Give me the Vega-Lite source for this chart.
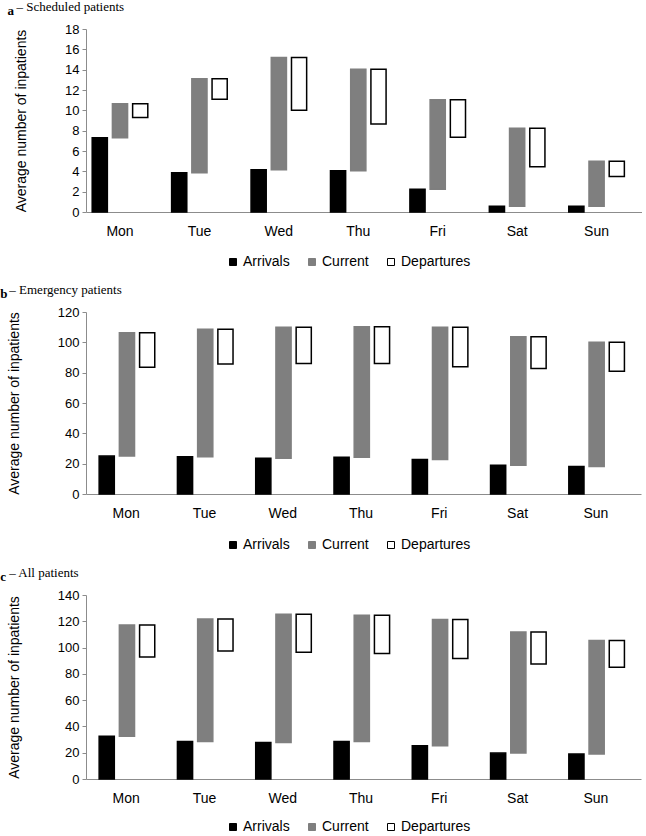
{
  "$schema": "https://vega.github.io/schema/vega-lite/v6.json",
  "padding": {"top": 1, "left": 0, "right": 0, "bottom": 0},
  "background": "white",
  "data": {"values": [
    {"p":"a","day":"Mon","s":"Arrivals","lo":0,"hi":7.3},{"p":"a","day":"Mon","s":"Current","lo":7.3,"hi":10.65},{"p":"a","day":"Mon","s":"Departures","lo":9.3,"hi":10.65},
    {"p":"a","day":"Tue","s":"Arrivals","lo":0,"hi":3.85},{"p":"a","day":"Tue","s":"Current","lo":3.85,"hi":13.1},{"p":"a","day":"Tue","s":"Departures","lo":11.1,"hi":13.1},
    {"p":"a","day":"Wed","s":"Arrivals","lo":0,"hi":4.15},{"p":"a","day":"Wed","s":"Current","lo":4.15,"hi":15.2},{"p":"a","day":"Wed","s":"Departures","lo":10.0,"hi":15.2},
    {"p":"a","day":"Thu","s":"Arrivals","lo":0,"hi":4.05},{"p":"a","day":"Thu","s":"Current","lo":4.05,"hi":14.05},{"p":"a","day":"Thu","s":"Departures","lo":8.65,"hi":14.05},
    {"p":"a","day":"Fri","s":"Arrivals","lo":0,"hi":2.25},{"p":"a","day":"Fri","s":"Current","lo":2.25,"hi":11.05},{"p":"a","day":"Fri","s":"Departures","lo":7.35,"hi":11.05},
    {"p":"a","day":"Sat","s":"Arrivals","lo":0,"hi":0.56},{"p":"a","day":"Sat","s":"Current","lo":0.56,"hi":8.25},{"p":"a","day":"Sat","s":"Departures","lo":4.45,"hi":8.25},
    {"p":"a","day":"Sun","s":"Arrivals","lo":0,"hi":0.56},{"p":"a","day":"Sun","s":"Current","lo":0.56,"hi":5.0},{"p":"a","day":"Sun","s":"Departures","lo":3.5,"hi":5.0},
    {"p":"b","day":"Mon","s":"Arrivals","lo":0,"hi":25},{"p":"b","day":"Mon","s":"Current","lo":25,"hi":106.3},{"p":"b","day":"Mon","s":"Departures","lo":83.5,"hi":106.3},
    {"p":"b","day":"Tue","s":"Arrivals","lo":0,"hi":24.5},{"p":"b","day":"Tue","s":"Current","lo":24.5,"hi":108.6},{"p":"b","day":"Tue","s":"Departures","lo":85.7,"hi":108.6},
    {"p":"b","day":"Wed","s":"Arrivals","lo":0,"hi":23.5},{"p":"b","day":"Wed","s":"Current","lo":23.5,"hi":109.9},{"p":"b","day":"Wed","s":"Departures","lo":86.1,"hi":109.9},
    {"p":"b","day":"Thu","s":"Arrivals","lo":0,"hi":24.3},{"p":"b","day":"Thu","s":"Current","lo":24.3,"hi":110.3},{"p":"b","day":"Thu","s":"Departures","lo":86.1,"hi":110.3},
    {"p":"b","day":"Fri","s":"Arrivals","lo":0,"hi":22.8},{"p":"b","day":"Fri","s":"Current","lo":22.8,"hi":110.0},{"p":"b","day":"Fri","s":"Departures","lo":83.9,"hi":110.0},
    {"p":"b","day":"Sat","s":"Arrivals","lo":0,"hi":19},{"p":"b","day":"Sat","s":"Current","lo":19,"hi":103.7},{"p":"b","day":"Sat","s":"Departures","lo":82.8,"hi":103.7},
    {"p":"b","day":"Sun","s":"Arrivals","lo":0,"hi":18.2},{"p":"b","day":"Sun","s":"Current","lo":18.2,"hi":100.0},{"p":"b","day":"Sun","s":"Departures","lo":80.9,"hi":100.0},
    {"p":"c","day":"Mon","s":"Arrivals","lo":0,"hi":32.5},{"p":"c","day":"Mon","s":"Current","lo":32.5,"hi":117.2},{"p":"c","day":"Mon","s":"Departures","lo":92.8,"hi":117.2},
    {"p":"c","day":"Tue","s":"Arrivals","lo":0,"hi":28.5},{"p":"c","day":"Tue","s":"Current","lo":28.5,"hi":121.8},{"p":"c","day":"Tue","s":"Departures","lo":97.4,"hi":121.8},
    {"p":"c","day":"Wed","s":"Arrivals","lo":0,"hi":27.7},{"p":"c","day":"Wed","s":"Current","lo":27.7,"hi":125.3},{"p":"c","day":"Wed","s":"Departures","lo":96.4,"hi":125.3},
    {"p":"c","day":"Thu","s":"Arrivals","lo":0,"hi":28.5},{"p":"c","day":"Thu","s":"Current","lo":28.5,"hi":124.6},{"p":"c","day":"Thu","s":"Departures","lo":95.4,"hi":124.6},
    {"p":"c","day":"Fri","s":"Arrivals","lo":0,"hi":25.3},{"p":"c","day":"Fri","s":"Current","lo":25.3,"hi":121.3},{"p":"c","day":"Fri","s":"Departures","lo":91.6,"hi":121.3},
    {"p":"c","day":"Sat","s":"Arrivals","lo":0,"hi":19.7},{"p":"c","day":"Sat","s":"Current","lo":19.7,"hi":111.9},{"p":"c","day":"Sat","s":"Departures","lo":87.5,"hi":111.9},
    {"p":"c","day":"Sun","s":"Arrivals","lo":0,"hi":19},{"p":"c","day":"Sun","s":"Current","lo":19,"hi":105.3},{"p":"c","day":"Sun","s":"Departures","lo":85.0,"hi":105.3}
  ]},
  "columns": 1,
  "align": "none",
  "spacing": 15,
  "resolve": {"scale": {"fill": "independent", "stroke": "independent", "x": "independent", "y": "independent"}, "legend": {"fill": "independent", "stroke": "independent"}},
  "concat": [
    {
      "title": {"text": "a", "fontWeight": "bold", "anchor": "start", "frame": "bounds", "dx": -7, "dy": 17, "offset": 0},
      "resolve": {"scale": {"fill": "independent", "stroke": "independent"}, "legend": {"fill": "independent", "stroke": "independent"}},
      "vconcat": [{
        "title": {"text": "– Scheduled patients", "anchor": "start", "frame": "bounds", "dx": 2, "offset": 9},
        "width": 556, "height": 183,
        "transform": [{"filter": "datum.p === 'a'"}],
        "mark": {"type": "bar", "strokeWidth": 1.5},
        "encoding": {
          "x": {"field": "day", "type": "nominal", "sort": ["Mon","Tue","Wed","Thu","Fri","Sat","Sun"], "scale": {"paddingInner": 0.3, "paddingOuter": 0.15, "align": 0.26}, "axis": {"title": null, "labelAngle": 0, "ticks": false, "tickSize": 0, "labelPadding": 12, "labelFontSize": 14}},
          "xOffset": {"field": "s", "type": "nominal", "sort": ["Arrivals","Current","Departures"], "scale": {"paddingInner": 0.25, "paddingOuter": 0}},
          "y": {"field": "lo", "type": "quantitative", "scale": {"domain": [0, 18], "nice": false}, "axis": {"values": [0,2,4,6,8,10,12,14,16,18], "title": "Average number of inpatients", "titlePadding": 36}},
          "y2": {"field": "hi"},
          "fill": {"field": "s", "type": "nominal", "scale": {"domain": ["Arrivals","Current","Departures"], "range": ["#000000","#7f7f7f","#ffffff"]}, "legend": {"title": null, "orient": "none", "legendX": 140, "legendY": 226, "direction": "horizontal"}},
          "stroke": {"field": "s", "type": "nominal", "scale": {"domain": ["Arrivals","Current","Departures"], "range": ["#000000","#7f7f7f","#000000"]}, "legend": {"title": null, "orient": "none", "legendX": 140, "legendY": 226, "direction": "horizontal"}}
        }
      }]
    },
    {
      "title": {"text": "b", "fontWeight": "bold", "anchor": "start", "frame": "bounds", "dx": -7, "dy": 17, "offset": 0},
      "resolve": {"scale": {"fill": "independent", "stroke": "independent"}, "legend": {"fill": "independent", "stroke": "independent"}},
      "vconcat": [{
        "title": {"text": "– Emergency patients", "anchor": "start", "frame": "bounds", "dx": 2, "offset": 9},
        "width": 555, "height": 182,
        "transform": [{"filter": "datum.p === 'b'"}],
        "mark": {"type": "bar", "strokeWidth": 1.5},
        "encoding": {
          "x": {"field": "day", "type": "nominal", "sort": ["Mon","Tue","Wed","Thu","Fri","Sat","Sun"], "scale": {"paddingInner": 0.31, "paddingOuter": 0.2, "align": 0.42}, "axis": {"title": null, "labelAngle": 0, "ticks": false, "tickSize": 0, "labelPadding": 12, "labelFontSize": 14}},
          "xOffset": {"field": "s", "type": "nominal", "sort": ["Arrivals","Current","Departures"], "scale": {"paddingInner": 0.25, "paddingOuter": 0}},
          "y": {"field": "lo", "type": "quantitative", "scale": {"domain": [0, 120], "nice": false}, "axis": {"values": [0,20,40,60,80,100,120], "title": "Average number of inpatients", "titlePadding": 36}},
          "y2": {"field": "hi"},
          "fill": {"field": "s", "type": "nominal", "scale": {"domain": ["Arrivals","Current","Departures"], "range": ["#000000","#7f7f7f","#ffffff"]}, "legend": {"title": null, "orient": "none", "legendX": 140, "legendY": 226, "direction": "horizontal"}},
          "stroke": {"field": "s", "type": "nominal", "scale": {"domain": ["Arrivals","Current","Departures"], "range": ["#000000","#7f7f7f","#000000"]}, "legend": {"title": null, "orient": "none", "legendX": 140, "legendY": 226, "direction": "horizontal"}}
        }
      }]
    },
    {
      "title": {"text": "c", "fontWeight": "bold", "anchor": "start", "frame": "bounds", "dx": -7, "dy": 17, "offset": 0},
      "resolve": {"scale": {"fill": "independent", "stroke": "independent"}, "legend": {"fill": "independent", "stroke": "independent"}},
      "vconcat": [{
        "title": {"text": "– All patients", "anchor": "start", "frame": "bounds", "dx": 2, "offset": 9},
        "width": 555, "height": 184,
        "transform": [{"filter": "datum.p === 'c'"}],
        "mark": {"type": "bar", "strokeWidth": 1.5},
        "encoding": {
          "x": {"field": "day", "type": "nominal", "sort": ["Mon","Tue","Wed","Thu","Fri","Sat","Sun"], "scale": {"paddingInner": 0.31, "paddingOuter": 0.2, "align": 0.42}, "axis": {"title": null, "labelAngle": 0, "ticks": false, "tickSize": 0, "labelPadding": 12, "labelFontSize": 14}},
          "xOffset": {"field": "s", "type": "nominal", "sort": ["Arrivals","Current","Departures"], "scale": {"paddingInner": 0.25, "paddingOuter": 0}},
          "y": {"field": "lo", "type": "quantitative", "scale": {"domain": [0, 140], "nice": false}, "axis": {"values": [0,20,40,60,80,100,120,140], "title": "Average number of inpatients", "titlePadding": 36}},
          "y2": {"field": "hi"},
          "fill": {"field": "s", "type": "nominal", "scale": {"domain": ["Arrivals","Current","Departures"], "range": ["#000000","#7f7f7f","#ffffff"]}, "legend": {"title": null, "orient": "none", "legendX": 140, "legendY": 225, "direction": "horizontal"}},
          "stroke": {"field": "s", "type": "nominal", "scale": {"domain": ["Arrivals","Current","Departures"], "range": ["#000000","#7f7f7f","#000000"]}, "legend": {"title": null, "orient": "none", "legendX": 140, "legendY": 225, "direction": "horizontal"}}
        }
      }]
    }
  ],
  "config": {
    "view": {"stroke": null},
    "font": "Liberation Sans",
    "axis": {"labelFont": "Liberation Sans", "titleFont": "Liberation Sans", "labelColor": "#000000", "titleColor": "#000000", "labelFontSize": 13, "titleFontSize": 14, "titleFontWeight": "normal", "domainColor": "#8c8c8c", "tickColor": "#8c8c8c", "tickSize": 4, "labelPadding": 3, "grid": false},
    "title": {"font": "Liberation Serif", "fontSize": 13, "color": "#000000", "fontWeight": "normal"},
    "legend": {"symbolType": "square", "symbolSize": 49, "symbolStrokeWidth": 1, "labelFont": "Liberation Sans", "labelFontSize": 14, "labelColor": "#000000", "columnPadding": 15, "labelOffset": 3, "padding": 0}
  }
}
